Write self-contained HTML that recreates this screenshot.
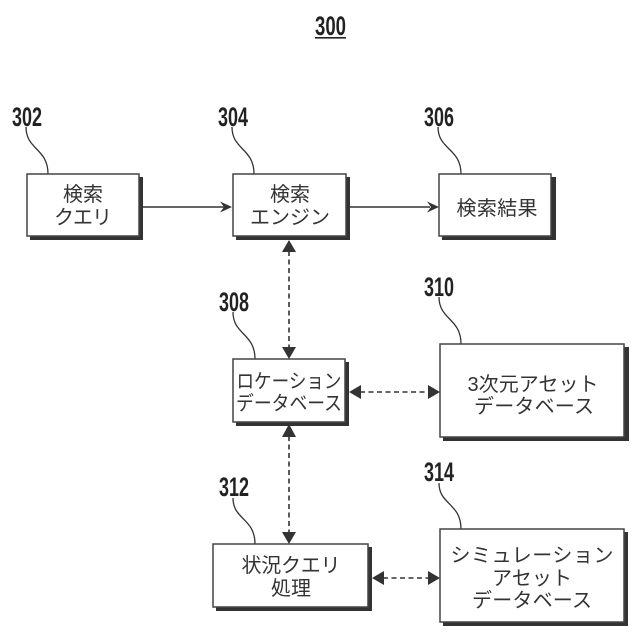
<!DOCTYPE html>
<html><head><meta charset="utf-8"><style>
html,body{margin:0;padding:0;background:#fff}
svg{display:block}
.n{font-family:"Liberation Sans",sans-serif;font-weight:bold;font-size:27px;fill:#222}
.t{font-family:"Liberation Sans","Noto Sans CJK JP",sans-serif;font-size:20px;fill:#333}
.c{fill:none;stroke:#333;stroke-width:1.3}
.b{fill:#fff;stroke:#444;stroke-width:1.5}
.s{fill:#333}
.d{stroke:#333;stroke-width:1.6;stroke-dasharray:5 3.5;fill:none}
.l{stroke:#333;stroke-width:1.4;fill:none}
.a{fill:#333}
</style></head><body>
<svg width="640" height="640" viewBox="0 0 640 640" xmlns="http://www.w3.org/2000/svg">
<text class="n" x="315" y="35" textLength="31" lengthAdjust="spacingAndGlyphs">300</text>
<rect x="315" y="37" width="31" height="1.6" fill="#222"/>

<text class="n" x="12" y="126" textLength="30" lengthAdjust="spacingAndGlyphs">302</text>
<text class="n" x="218" y="126" textLength="30" lengthAdjust="spacingAndGlyphs">304</text>
<text class="n" x="424" y="126" textLength="30" lengthAdjust="spacingAndGlyphs">306</text>
<text class="n" x="219" y="311" textLength="30" lengthAdjust="spacingAndGlyphs">308</text>
<text class="n" x="424" y="296" textLength="30" lengthAdjust="spacingAndGlyphs">310</text>
<text class="n" x="219" y="496" textLength="30" lengthAdjust="spacingAndGlyphs">312</text>
<text class="n" x="424" y="481" textLength="30" lengthAdjust="spacingAndGlyphs">314</text>

<path class="c" d="M26 127C26 150 48 148 48 174"/>
<path class="c" d="M232 127C232 150 254 148 254 174"/>
<path class="c" d="M438 127C438 150 461 148 461 174"/>
<path class="c" d="M233 312C233 335 255 333 255 359"/>
<path class="c" d="M439 297C439 320 461 318 461 344"/>
<path class="c" d="M233 498C233 520 255 518 255 544"/>
<path class="c" d="M439 483C439 505 461 503 461 529"/>

<rect class="s" x="30" y="177" width="113" height="63"/><rect class="b" x="27" y="174" width="112" height="62"/>
<rect class="s" x="236" y="177" width="114" height="63"/><rect class="b" x="233" y="174" width="113" height="62"/>
<rect class="s" x="442" y="177" width="114" height="63"/><rect class="b" x="439" y="174" width="112" height="62"/>
<rect class="s" x="236" y="362" width="113" height="64"/><rect class="b" x="233" y="359" width="112" height="63"/>
<rect class="s" x="443" y="347" width="186" height="94"/><rect class="b" x="440" y="344" width="184" height="93"/>
<rect class="s" x="216" y="547" width="156" height="64"/><rect class="b" x="213" y="544" width="155" height="63"/>
<rect class="s" x="443" y="532" width="185" height="94"/><rect class="b" x="440" y="529" width="184" height="93"/>

<text class="t" x="83" y="201" text-anchor="middle">検索</text>
<text class="t" x="83" y="224" text-anchor="middle" textLength="58">クエリ</text>
<text class="t" x="290" y="201" text-anchor="middle">検索</text>
<text class="t" x="290" y="224" text-anchor="middle" textLength="80">エンジン</text>
<text class="t" x="497" y="215" text-anchor="middle" textLength="81">検索結果</text>
<text class="t" x="289" y="388" text-anchor="middle" textLength="105" lengthAdjust="spacingAndGlyphs">ロケーション</text>
<text class="t" x="289" y="410" text-anchor="middle" textLength="106" lengthAdjust="spacingAndGlyphs">データベース</text>
<text class="t" x="533" y="391" text-anchor="middle" textLength="131">3次元アセット</text>
<text class="t" x="534" y="413" text-anchor="middle" textLength="120">データベース</text>
<text class="t" x="291" y="572" text-anchor="middle" textLength="99">状況クエリ</text>
<text class="t" x="291" y="595" text-anchor="middle" textLength="40">処理</text>
<text class="t" x="532" y="562" text-anchor="middle" textLength="163">シミュレーション</text>
<text class="t" x="532" y="585" text-anchor="middle" textLength="80">アセット</text>
<text class="t" x="532" y="607" text-anchor="middle" textLength="120">データベース</text>

<line class="l" x1="143" y1="207" x2="224" y2="207"/>
<path class="a" d="M232 207L220 201.500L224 207L220 212.500Z"/>
<line class="l" x1="350" y1="207" x2="430" y2="207"/>
<path class="a" d="M439 207L427 201.500L431 207L427 212.500Z"/>

<line class="d" x1="289" y1="251" x2="289" y2="348"/>
<path class="a" d="M289 240L282 252H296Z"/>
<path class="a" d="M289 359L282 347H296Z"/>

<line class="d" x1="289" y1="436" x2="289" y2="533"/>
<path class="a" d="M289 424L282 437H296Z"/>
<path class="a" d="M289 544L282 532H296Z"/>

<line class="d" x1="360" y1="392" x2="429" y2="392"/>
<path class="a" d="M349 392L361 385V399Z"/>
<path class="a" d="M440 392L428 385V399Z"/>

<line class="d" x1="383" y1="578" x2="429" y2="578"/>
<path class="a" d="M372 578L384 571V585Z"/>
<path class="a" d="M440 578L428 571V585Z"/>
</svg>
</body></html>
